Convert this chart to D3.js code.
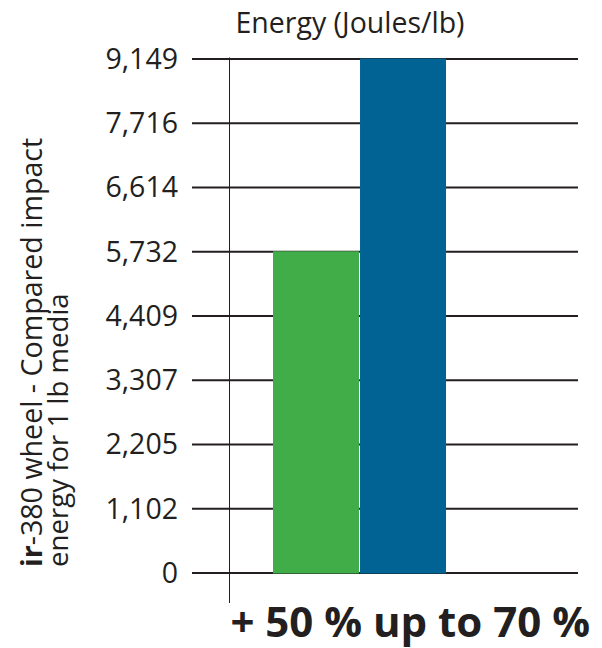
<!DOCTYPE html>
<html><head><meta charset="utf-8">
<script src="https://cdn.jsdelivr.net/npm/d3@7"></script>
<style>body{margin:0;background:#fff}svg{display:block}text{font-family:"Open Sans",sans-serif;fill:#231f20}</style>
</head><body>
<script>
const tickValues = [0, 1102, 2205, 3307, 4409, 5732, 6614, 7716, 9149];
const tickLabels = ["0","1,102","2,205","3,307","4,409","5,732","6,614","7,716","9,149"];
const categories = ["Standard wheel", "ir-380 wheel"];
const values = [5732, 9149];
const colors = ["#41ad49", "#006394"];

const W = 602, H = 648;
const svg = d3.select("body").append("svg").attr("width", W).attr("height", H);

const yTop = 58.5, yBot = 572.5;
const step = (yBot - yTop) / (tickValues.length - 1);
const y = d3.scaleLinear().domain(tickValues).range(tickValues.map((d, i) => yBot - i * step));
const x = d3.scaleBand().domain(categories).range([273, 446]).paddingInner(0.012);

// gridlines + tick labels via axis
const axis = d3.axisLeft(y).tickValues(tickValues).tickFormat((d, i) => tickLabels[i])
  .tickSize(-(578 - 192)).tickPadding(14);
const g = svg.append("g").attr("transform", "translate(192,0)").call(axis);
g.select(".domain").remove();
g.selectAll(".tick line").attr("stroke", "#231f20").attr("stroke-width", 1.8);
g.selectAll(".tick text").style("font-size", "28.5px").attr("fill", "#231f20").attr("dy", "0.35em");

// vertical axis line
svg.append("line").attr("x1", 229.5).attr("x2", 229.5).attr("y1", yTop - 1).attr("y2", 603)
  .attr("stroke", "#231f20").attr("stroke-width", 1);

// bars
svg.selectAll("rect.bar").data(values).join("rect").attr("class", "bar")
  .attr("x", (d, i) => x(categories[i])).attr("width", x.bandwidth())
  .attr("y", d => y(d)).attr("height", d => y(0) - y(d) + 1)
  .attr("fill", (d, i) => colors[i]);

// title
svg.append("text").attr("x", 350).attr("y", 33).attr("text-anchor", "middle")
  .style("font-size", "28.5px").text("Energy (Joules/lb)");

// y title
const yt = svg.append("g").attr("transform", "translate(0,567) rotate(-90)");
const t1 = yt.append("text").attr("x", 0).attr("y", 42).style("font-size", "28.6px");
t1.append("tspan").style("font-weight", "bold").text("ir");
t1.append("tspan").text("-380 wheel - Compared impact");
yt.append("text").attr("x", 0).attr("y", 68).style("font-size", "27.6px").text("energy for 1 lb media");

// bottom annotation
svg.append("text").attr("x", 590).attr("y", 637).attr("text-anchor", "end")
  .style("font-size", "42px").style("font-weight", "bold").text("+ 50 % up to 70 %");
</script>
</body></html>
